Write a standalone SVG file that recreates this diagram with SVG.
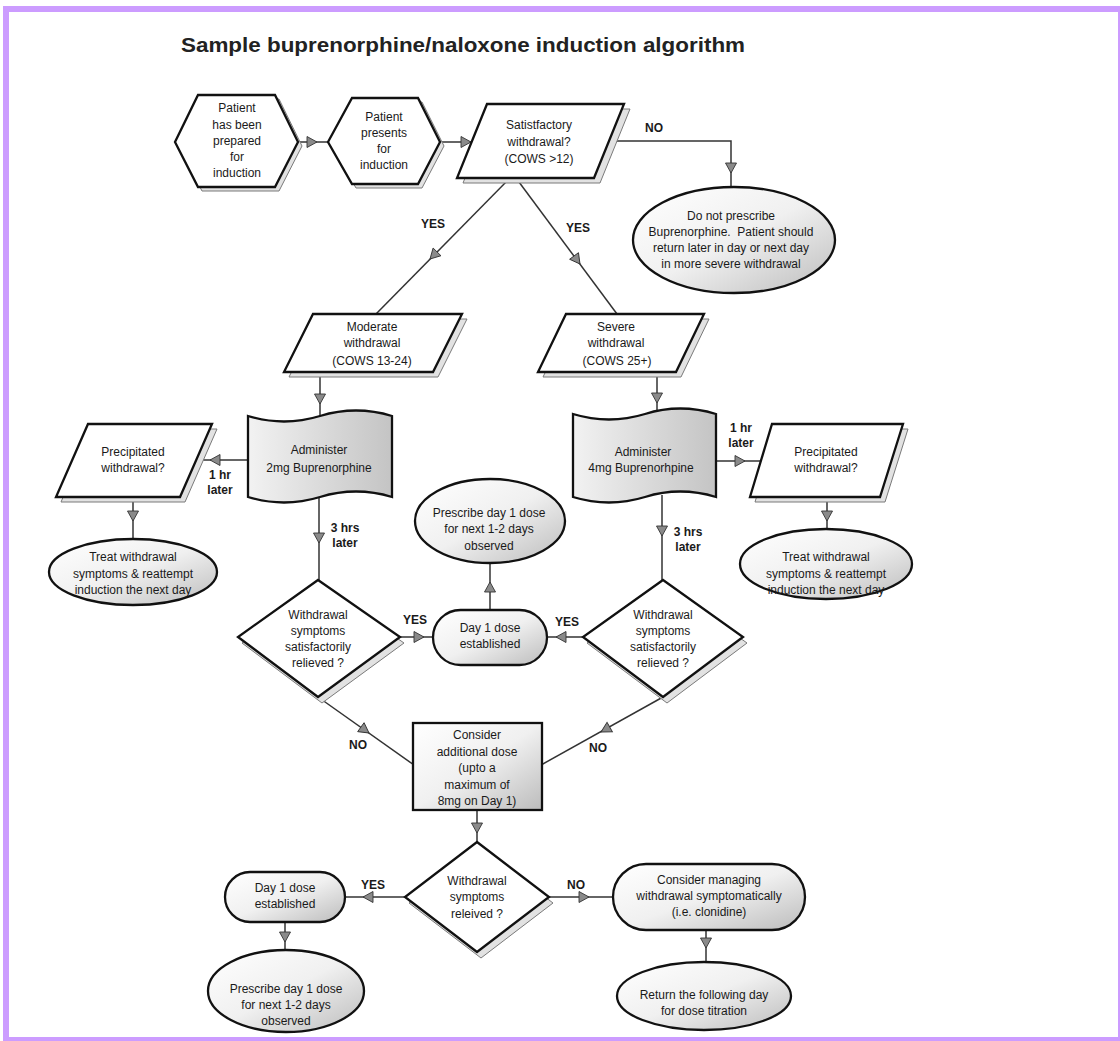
<svg xmlns="http://www.w3.org/2000/svg" width="1120" height="1041" viewBox="0 0 1120 1041">
<defs>
<linearGradient id="gr" x1="0" y1="0" x2="1" y2="1">
<stop offset="0" stop-color="#ffffff"/>
<stop offset="0.5" stop-color="#f0f0f0"/>
<stop offset="1" stop-color="#bcbcbc"/>
</linearGradient>
<linearGradient id="gd" x1="0" y1="0" x2="1" y2="0">
<stop offset="0" stop-color="#f2f2f2"/>
<stop offset="1" stop-color="#c4c4c4"/>
</linearGradient>
<path id="ah" d="M0,0 L-10,-5.5 L-10,5.5 Z"/>
</defs>
<style>
.n{stroke:#111;stroke-width:2.3;stroke-linejoin:miter}
.w{fill:#fff}
.g{fill:url(#gr)}
.d{fill:url(#gd)}
.sh{fill:#e2e2e2;stroke:#7a7a7a;stroke-width:1}
.c{fill:none;stroke:#333;stroke-width:1.5}
.a{fill:#8a8a8a;stroke:#333;stroke-width:0.9}
text{font-family:"Liberation Sans",Arial,sans-serif;font-size:12px;fill:#1a1a1a;text-anchor:middle}
.b{font-weight:bold}
.t{font-size:21px;font-weight:bold;text-anchor:start;fill:#222}
</style>
<rect x="6" y="9" width="1115" height="1031" fill="#fff" stroke="#cc9cff" stroke-width="6"/>
<text class="t" x="181" y="52" textLength="564" lengthAdjust="spacingAndGlyphs">Sample buprenorphine/naloxone induction algorithm</text>

<g id="connectors">
<line class="c" x1="298" y1="142" x2="330" y2="142"/>
<use href="#ah" class="a" transform="translate(317,142)"/>
<line class="c" x1="440" y1="142" x2="472" y2="142"/>
<use href="#ah" class="a" transform="translate(471,142)"/>
<polyline class="c" points="600,141 731,141 731,188"/>
<use href="#ah" class="a" transform="translate(731,173) rotate(90)"/>
<line class="c" x1="510" y1="178" x2="376" y2="314"/>
<use href="#ah" class="a" transform="translate(430,259) rotate(134.6)"/>
<line class="c" x1="516" y1="178" x2="617" y2="314"/>
<use href="#ah" class="a" transform="translate(580,264) rotate(53.4)"/>
<line class="c" x1="320" y1="372" x2="320" y2="418"/>
<use href="#ah" class="a" transform="translate(320,404) rotate(90)"/>
<line class="c" x1="657" y1="372" x2="657" y2="416"/>
<use href="#ah" class="a" transform="translate(657,403) rotate(90)"/>
<line class="c" x1="250" y1="460" x2="196" y2="460"/>
<use href="#ah" class="a" transform="translate(210,460) rotate(180)"/>
<line class="c" x1="714" y1="461" x2="762" y2="461"/>
<use href="#ah" class="a" transform="translate(745,461)"/>
<line class="c" x1="133" y1="497" x2="133" y2="541"/>
<use href="#ah" class="a" transform="translate(133,521) rotate(90)"/>
<line class="c" x1="827" y1="497" x2="827" y2="531"/>
<use href="#ah" class="a" transform="translate(827,521) rotate(90)"/>
<line class="c" x1="319" y1="495" x2="319" y2="581"/>
<use href="#ah" class="a" transform="translate(319,543) rotate(90)"/>
<line class="c" x1="662" y1="495" x2="662" y2="581"/>
<use href="#ah" class="a" transform="translate(662,536) rotate(90)"/>
<line class="c" x1="400" y1="637" x2="434" y2="637"/>
<use href="#ah" class="a" transform="translate(424,637)"/>
<line class="c" x1="583" y1="637" x2="546" y2="637"/>
<use href="#ah" class="a" transform="translate(556,637) rotate(180)"/>
<line class="c" x1="490" y1="611" x2="490" y2="562"/>
<use href="#ah" class="a" transform="translate(490,582) rotate(-90)"/>
<line class="c" x1="318" y1="697" x2="414" y2="765"/>
<use href="#ah" class="a" transform="translate(369,733) rotate(35.6)"/>
<line class="c" x1="663" y1="697" x2="541" y2="765"/>
<use href="#ah" class="a" transform="translate(601,732) rotate(150.7)"/>
<line class="c" x1="477" y1="810" x2="477" y2="843"/>
<use href="#ah" class="a" transform="translate(477,833) rotate(90)"/>
<line class="c" x1="405" y1="897" x2="344" y2="897"/>
<use href="#ah" class="a" transform="translate(363,897) rotate(180)"/>
<line class="c" x1="549" y1="897" x2="614" y2="897"/>
<use href="#ah" class="a" transform="translate(589,897)"/>
<line class="c" x1="285" y1="921" x2="285" y2="951"/>
<use href="#ah" class="a" transform="translate(285,942) rotate(90)"/>
<line class="c" x1="706" y1="929" x2="706" y2="963"/>
<use href="#ah" class="a" transform="translate(706,948) rotate(90)"/>
</g>

<g id="labels">
<text class="b" x="654" y="132">NO</text>
<text class="b" x="433" y="228">YES</text>
<text class="b" x="578" y="232">YES</text>
<text class="b" x="220" y="479">1 hr</text>
<text class="b" x="220" y="494">later</text>
<text class="b" x="741" y="432">1 hr</text>
<text class="b" x="741" y="447">later</text>
<text class="b" x="345" y="532">3 hrs</text>
<text class="b" x="345" y="547">later</text>
<text class="b" x="688" y="536">3 hrs</text>
<text class="b" x="688" y="551">later</text>
<text class="b" x="415" y="624">YES</text>
<text class="b" x="567" y="626">YES</text>
<text class="b" x="358" y="749">NO</text>
<text class="b" x="598" y="752">NO</text>
<text class="b" x="373" y="889">YES</text>
<text class="b" x="576" y="889">NO</text>
</g>

<g id="n_prepared">
<polygon class="sh" points="179,146 202,99 279,99 302,146 279,191 202,191"/>
<polygon class="n w" points="175,142 198,95 275,95 298,142 275,187 198,187"/>
<text x="237" y="112">Patient</text>
<text x="237" y="129">has been</text>
<text x="237" y="145">prepared</text>
<text x="237" y="161">for</text>
<text x="237" y="177">induction</text>
</g>

<g id="n_presents">
<polygon class="sh" points="332,146 356,102 422,102 444,146 422,188 356,188"/>
<polygon class="n w" points="328,142 352,98 418,98 440,142 418,184 352,184"/>
<text x="384" y="121">Patient</text>
<text x="384" y="137">presents</text>
<text x="384" y="153">for</text>
<text x="384" y="169">induction</text>
</g>

<g id="n_satisfactory">
<polygon class="sh" points="493,109 630,109 600,183 463,183"/>
<polygon class="n w" points="487,104 624,104 594,178 457,178"/>
<text x="539" y="129">Satistfactory</text>
<text x="539" y="146">withdrawal?</text>
<text x="539" y="163">(COWS &gt;12)</text>
</g>

<g id="n_donot">
<ellipse class="n g" cx="734" cy="240" rx="101" ry="53"/>
<text x="731" y="220">Do not prescribe</text>
<text x="731" y="236">Buprenorphine.&#160; Patient should</text>
<text x="731" y="252">return later in day or next day</text>
<text x="731" y="268">in more severe withdrawal</text>
</g>

<g id="n_moderate">
<polygon class="sh" points="318,319 467,319 438,377 289,377"/>
<polygon class="n w" points="313,314 462,314 433,372 284,372"/>
<text x="372" y="331">Moderate</text>
<text x="372" y="347">withdrawal</text>
<text x="372" y="365">(COWS 13-24)</text>
</g>

<g id="n_severe">
<polygon class="sh" points="571,319 709,319 681,377 543,377"/>
<polygon class="n w" points="566,314 704,314 676,372 538,372"/>
<text x="616" y="331">Severe</text>
<text x="616" y="347">withdrawal</text>
<text x="617" y="365">(COWS 25+)</text>
</g>

<g id="n_admin2">
<path class="n d" d="M248,416 Q284,427 320,416 Q356,405 392,416 L392,497 Q356,486 320,497 Q284,508 248,497 Z"/>
<text x="319" y="454">Administer</text>
<text x="319" y="472">2mg Buprenorphine</text>
</g>

<g id="n_admin4">
<path class="n d" d="M573,414 Q609,425 645,414 Q680,403 716,414 L716,497 Q680,486 645,497 Q609,508 573,497 Z"/>
<text x="643" y="456">Administer</text>
<text x="641" y="472">4mg Buprenorhpine</text>
</g>

<g id="n_precip_left">
<polygon class="sh" points="93,429 217,429 185,502 61,502"/>
<polygon class="n w" points="88,424 212,424 180,497 56,497"/>
<text x="133" y="456">Precipitated</text>
<text x="133" y="472">withdrawal?</text>
</g>

<g id="n_precip_right">
<polygon class="sh" points="777,429 908,429 885,502 755,502"/>
<polygon class="n w" points="772,424 903,424 880,497 750,497"/>
<text x="826" y="456">Precipitated</text>
<text x="826" y="472">withdrawal?</text>
</g>

<g id="n_treat_left">
<ellipse class="n g" cx="133" cy="572" rx="84" ry="33"/>
<text x="133" y="561">Treat withdrawal</text>
<text x="133" y="578">symptoms &amp; reattempt</text>
<text x="133" y="594">induction the next day</text>
</g>

<g id="n_treat_right">
<ellipse class="n g" cx="826" cy="564" rx="86" ry="35"/>
<text x="826" y="561">Treat withdrawal</text>
<text x="826" y="578">symptoms &amp; reattempt</text>
<text x="826" y="594">induction the next day</text>
</g>

<g id="n_prescribe_mid">
<ellipse class="n g" cx="490" cy="521" rx="75" ry="42"/>
<text x="489" y="517">Prescribe day  1 dose</text>
<text x="489" y="533">for next 1-2 days</text>
<text x="489" y="550">observed</text>
</g>

<g id="n_relieved_left">
<polygon class="sh" points="322,586 404,643 322,703 242,643"/>
<polygon class="n w" points="318,580 400,637 318,697 238,637"/>
<text x="318" y="619">Withdrawal</text>
<text x="318" y="635">symptoms</text>
<text x="318" y="651">satisfactorily</text>
<text x="318" y="667">relieved ?</text>
</g>

<g id="n_relieved_right">
<polygon class="sh" points="667,586 747,643 667,703 587,643"/>
<polygon class="n w" points="663,580 743,637 663,697 583,637"/>
<text x="663" y="619">Withdrawal</text>
<text x="663" y="635">symptoms</text>
<text x="663" y="651">satisfactorily</text>
<text x="663" y="667">relieved ?</text>
</g>

<g id="n_day1_mid">
<rect class="n g" x="433" y="610" width="114" height="55" rx="27.5"/>
<text x="490" y="632">Day 1 dose</text>
<text x="490" y="648">established</text>
</g>

<g id="n_consider_dose">
<rect class="n g" x="413" y="723" width="129" height="87"/>
<text x="477" y="739">Consider</text>
<text x="477" y="756">additional dose</text>
<text x="477" y="772">(upto a</text>
<text x="477" y="789">maximum of</text>
<text x="477" y="805">8mg on Day 1)</text>
</g>

<g id="n_relieved_bottom">
<polygon class="sh" points="481,848 553,903 481,958 409,903"/>
<polygon class="n w" points="477,842 549,897 477,952 405,897"/>
<text x="477" y="885">Withdrawal</text>
<text x="477" y="901">symptoms</text>
<text x="477" y="918">releived ?</text>
</g>

<g id="n_day1_bottom">
<rect class="n g" x="225" y="872" width="120" height="50" rx="25"/>
<text x="285" y="892">Day 1 dose</text>
<text x="285" y="908">established</text>
</g>

<g id="n_prescribe_bottom">
<ellipse class="n g" cx="286" cy="991" rx="78" ry="41"/>
<text x="286" y="993">Prescribe day 1 dose</text>
<text x="286" y="1009">for next 1-2 days</text>
<text x="286" y="1025">observed</text>
</g>

<g id="n_consider_managing">
<rect class="n g" x="613" y="864" width="192" height="66" rx="33"/>
<text x="709" y="884">Consider managing</text>
<text x="709" y="900">withdrawal symptomatically</text>
<text x="709" y="916">(i.e. clonidine)</text>
</g>

<g id="n_return">
<ellipse class="n g" cx="704" cy="996" rx="87" ry="34"/>
<text x="704" y="999">Return the following day</text>
<text x="704" y="1015">for dose titration</text>
</g>
</svg>
